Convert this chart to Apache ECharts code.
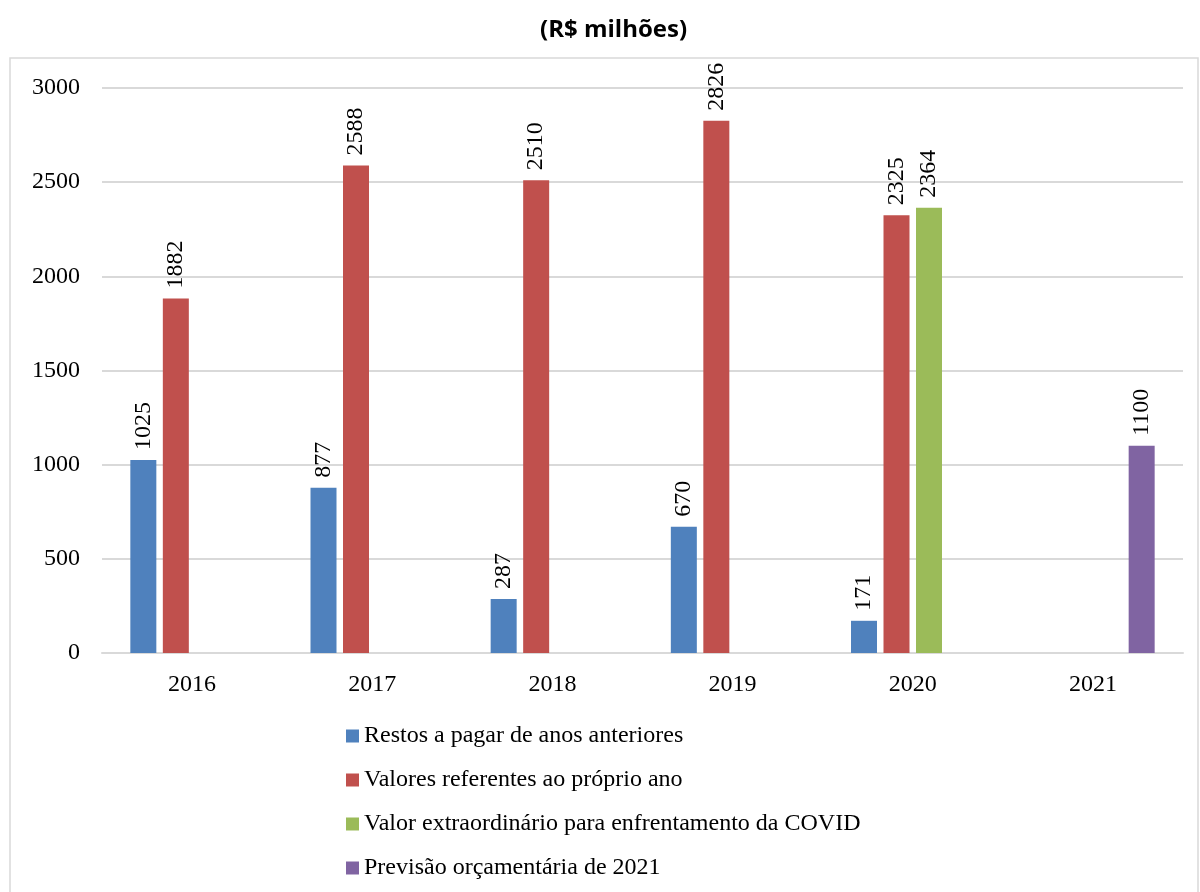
<!DOCTYPE html>
<html><head><meta charset="utf-8">
<script src="https://cdn.jsdelivr.net/npm/echarts@6/dist/echarts.min.js"></script>
<style>html,body{margin:0;padding:0;background:#fff}#c{width:1200px;height:892px}</style>
</head><body><div id="c"></div>
<script>
const categories = ['2016','2017','2018','2019','2020','2021'];
const seriesNames = ['Restos a pagar de anos anteriores','Valores referentes ao próprio ano','Valor extraordinário para enfrentamento da COVID','Previsão orçamentária de 2021'];
const restos = [1025, 877, 287, 670, 171, null];
const proprio = [1882, 2588, 2510, 2826, 2325, null];
const covid = [null, null, null, null, 2364, null];
const previsao = [null, null, null, null, null, 1100];
const colors = ['#4f81bd','#c0504d','#9bbb59','#8064a2'];
const font = 'Liberation Serif';
const fs = 24;
const chart = echarts.init(document.getElementById('c'));
const mk = (name, data, color) => ({
  name, type: 'bar', data, barWidth: 26, barGap: '25%',
  itemStyle: { color },
  label: { show: true, position: 'top', rotate: 90, align: 'left', verticalAlign: 'middle', distance: 10,
    fontFamily: font, fontSize: fs, color: '#000' }
});
chart.setOption({
  animation: false,
  title: { text: '(R$ milhões)', left: 535, top: 13,
    textStyle: { fontFamily: 'Open Sans', fontWeight: 'bold', fontSize: 24, color: '#000' } },
  graphic: [{ type: 'rect', shape: { x: 10, y: 58, width: 1188, height: 850 },
    style: { fill: 'none', stroke: '#d9d9d9', lineWidth: 1.5 } }],
  grid: { left: 102, right: 17, top: 88, bottom: 239 },
  legend: { orient: 'vertical', left: 341, top: 719, itemWidth: 13, itemHeight: 13, itemGap: 20,
    icon: 'rect', textStyle: { fontFamily: font, fontSize: fs, color: '#000' },
    data: seriesNames },
  xAxis: { type: 'category', data: categories,
    axisLine: { lineStyle: { color: '#d9d9d9', width: 2 } }, axisTick: { show: false },
    axisLabel: { fontFamily: font, fontSize: fs, color: '#000', margin: 20 } },
  yAxis: { type: 'value', min: 0, max: 3000, interval: 500,
    axisLine: { show: false }, axisTick: { show: false },
    splitLine: { lineStyle: { color: '#d9d9d9', width: 2 } },
    axisLabel: { fontFamily: font, fontSize: fs, color: '#000', margin: 22, formatter: v => String(v) } },
  series: [mk(seriesNames[0], restos, colors[0]), mk(seriesNames[1], proprio, colors[1]),
           mk(seriesNames[2], covid, colors[2]), mk(seriesNames[3], previsao, colors[3])]
});
</script></body></html>
